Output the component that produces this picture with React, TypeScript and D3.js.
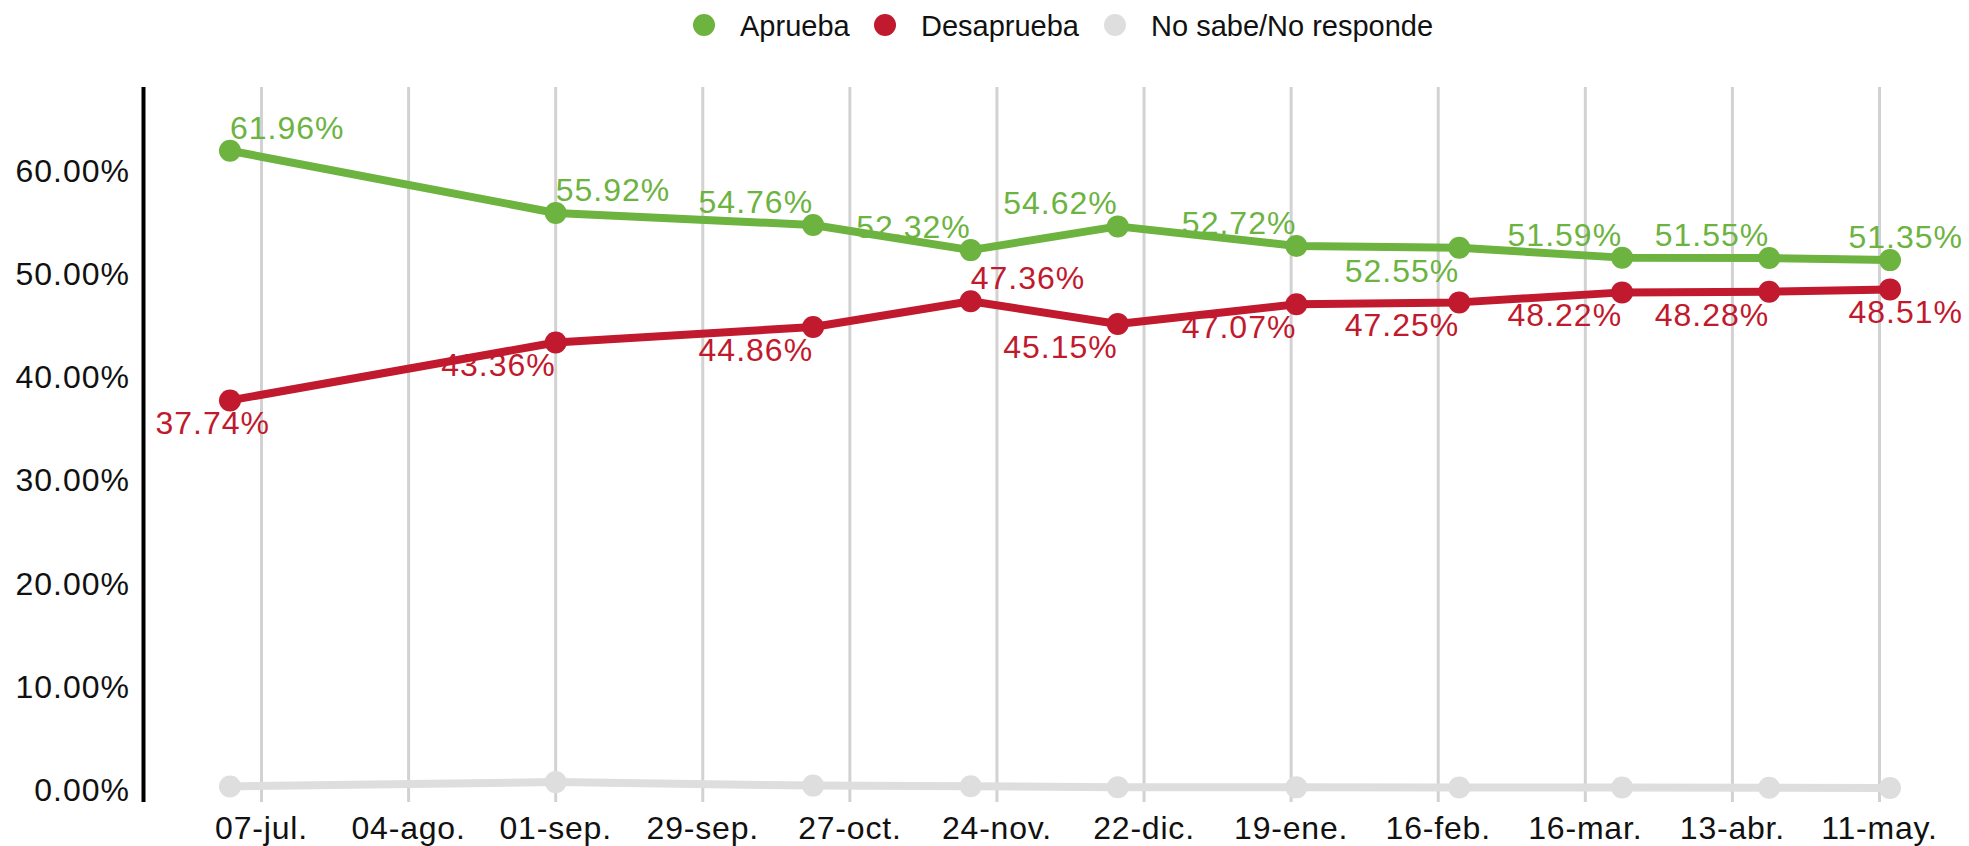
import React from "react";
import * as d3 from "d3";

const W = 1969;
const H = 846;

const seriesNames = ["Aprueba", "Desaprueba", "No sabe/No responde"];
const seriesColors = ["#6cb33f", "#c1192d", "#dddedd"];

const surveyDates = [
  "2024-07-01", "2024-09-01", "2024-10-20", "2024-11-19", "2024-12-17",
  "2025-01-20", "2025-02-20", "2025-03-23", "2025-04-20", "2025-05-13",
];
const aprueba = [61.96, 55.92, 54.76, 52.32, 54.62, 52.72, 52.55, 51.59, 51.55, 51.35];
const desaprueba = [37.74, 43.36, 44.86, 47.36, 45.15, 47.07, 47.25, 48.22, 48.28, 48.51];
const noSabe = [0.30, 0.72, 0.38, 0.32, 0.23, 0.21, 0.20, 0.19, 0.17, 0.14];

// label placement rules: anchor side + above/below
const apruebaLabelPlace = ["start-above", "start-above", "end-above", "end-above", "end-above", "end-above", "end-below", "end-above", "end-above", "right-above"];
const desapruebaLabelPlace = ["axis-below", "end-below", "end-below", "start-above", "end-below", "end-below", "end-below", "end-below", "end-below", "right-below"];

const tickDates = [
  "2024-07-07", "2024-08-04", "2024-09-01", "2024-09-29", "2024-10-27", "2024-11-24",
  "2024-12-22", "2025-01-19", "2025-02-16", "2025-03-16", "2025-04-13", "2025-05-11",
];
const tickLabels = [
  "07-jul.", "04-ago.", "01-sep.", "29-sep.", "27-oct.", "24-nov.",
  "22-dic.", "19-ene.", "16-feb.", "16-mar.", "13-abr.", "11-may.",
];
const yTicks = [0, 10, 20, 30, 40, 50, 60];

const FONT = "'Liberation Sans', Arial, Helvetica, sans-serif";

export default function App() {
  const parse = (s: string) => new Date(s + "T00:00:00Z");
  const axisX = 143.5;
  const plotTop = 87;
  const plotBottom = 802;
  const x = d3
    .scaleUtc()
    .domain([parse(tickDates[0]), parse(tickDates[tickDates.length - 1])])
    .range([261.5, 1879.5]);
  const y = d3.scaleLinear().domain([-1.21, 68.14]).range([plotBottom, plotTop]);

  const dates = surveyDates.map(parse);
  const series = [aprueba, desaprueba, noSabe];
  const line = d3
    .line<number>()
    .x((_, i) => x(dates[i]))
    .y((v) => y(v));

  const renderLabels = (vals: number[], places: string[], color: string) =>
    vals.map((v, i) => {
      const [side, vert] = places[i].split("-");
      const px = x(dates[i]);
      const py = y(v);
      let tx = px;
      let anchor: "start" | "end" = "start";
      if (side === "end") anchor = "end";
      if (side === "right") {
        anchor = "end";
        tx = W - 6;
      }
      if (side === "axis") {
        anchor = "start";
        tx = axisX + 12;
      }
      const ty = vert === "above" ? py - 12 : py + 34;
      return (
        <text
          key={i}
          x={tx}
          y={ty}
          textAnchor={anchor}
          fill={color}
          fontSize={32}
          letterSpacing={1}
          fontFamily={FONT}
        >
          {v.toFixed(2) + "%"}
        </text>
      );
    });

  // legend layout
  const legendWidths = [109, 158, 285];
  const legendItems: { cx: number; tx: number }[] = [];
  let lx = 693;
  legendWidths.forEach((w) => {
    legendItems.push({ cx: lx + 11, tx: lx + 47 });
    lx = lx + 47 + w + 25;
  });

  return (
    <svg
      width={W}
      height={H}
      style={{ position: "absolute", left: 0, top: 0, background: "#fff" }}
      fontFamily={FONT}
    >
      {/* legend */}
      {seriesNames.map((n, i) => (
        <g key={n}>
          <circle cx={legendItems[i].cx} cy={25} r={11} fill={seriesColors[i]} />
          <text x={legendItems[i].tx} y={35.5} fontSize={29} fill="#111">
            {n}
          </text>
        </g>
      ))}

      {/* vertical grid */}
      {tickDates.map((d) => (
        <line
          key={d}
          x1={x(parse(d))}
          x2={x(parse(d))}
          y1={plotTop}
          y2={plotBottom}
          stroke="#d2d2d2"
          strokeWidth={3}
        />
      ))}

      {/* x tick labels */}
      {tickDates.map((d, i) => (
        <text
          key={d}
          x={x(parse(d))}
          y={839}
          textAnchor="middle"
          fontSize={32}
          letterSpacing={0.8}
          fill="#111"
        >
          {tickLabels[i]}
        </text>
      ))}

      {/* y axis */}
      <line x1={axisX} x2={axisX} y1={plotTop} y2={plotBottom} stroke="#000" strokeWidth={4} />
      {yTicks.map((t) => (
        <text
          key={t}
          x={130}
          y={y(t)}
          dy="0.35em"
          textAnchor="end"
          fontSize={32}
          letterSpacing={1}
          fill="#111"
        >
          {t.toFixed(2) + "%"}
        </text>
      ))}

      {/* lines */}
      {series
        .map((vals, si) => ({ vals, si }))
        .reverse()
        .map(({ vals, si }) => (
          <g key={si}>
            <path
              d={line(vals) || ""}
              fill="none"
              stroke={seriesColors[si]}
              strokeWidth={8}
              strokeLinejoin="round"
            />
            {vals.map((v, i) => (
              <circle key={i} cx={x(dates[i])} cy={y(v)} r={11} fill={seriesColors[si]} />
            ))}
          </g>
        ))}

      {/* data labels */}
      {renderLabels(aprueba, apruebaLabelPlace, seriesColors[0])}
      {renderLabels(desaprueba, desapruebaLabelPlace, seriesColors[1])}
    </svg>
  );
}
